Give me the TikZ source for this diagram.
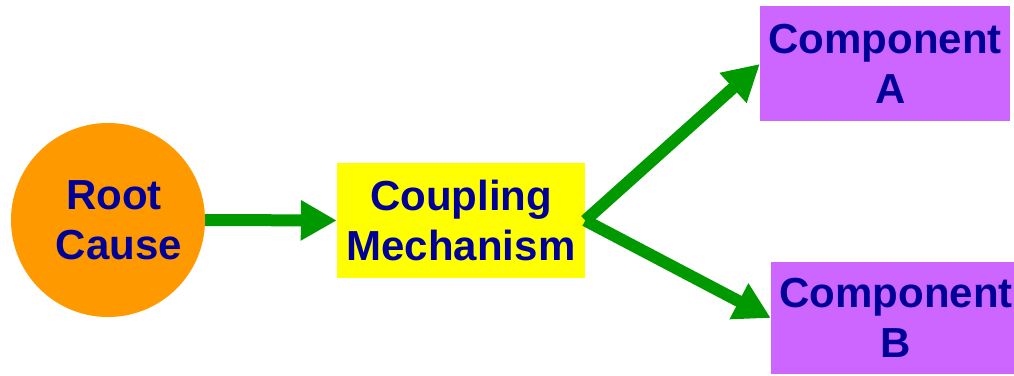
\documentclass[tikz,border=0pt]{standalone}
\usepackage{fontspec}
\setmainfont{Liberation Sans}
\usetikzlibrary{arrows.meta}
\definecolor{rootorange}{RGB}{255,153,0}
\definecolor{couplyellow}{RGB}{255,255,0}
\definecolor{comppurple}{RGB}{204,102,255}
\definecolor{flowgreen}{RGB}{0,153,0}
\definecolor{labelblue}{RGB}{0,0,153}
\tikzset{
  label text/.style={text=labelblue, font=\bfseries\fontsize{42}{50}\selectfont, align=center, inner sep=0pt},
  causenode/.style={label text, circle, fill=rootorange, minimum size=194pt},
  mechnode/.style={label text, rectangle, fill=couplyellow, minimum width=248pt, minimum height=115pt},
  compnode/.style={label text, rectangle, fill=comppurple, minimum width=250pt, minimum height=115pt},
  flow/.style={draw=flowgreen, line width=12pt, -{Triangle[length=36pt, width=38pt]}}
}
\begin{document}
\begin{tikzpicture}[x=1pt, y=1pt]
  \clip (0,0) rectangle (1014,375);
  \fill[white] (0,0) rectangle (1014,375);
  % the three stages: cause, coupling, affected components
  \node[causenode] (root) at (108,155) {\hspace*{12pt}Root\\\hspace*{22pt}Cause};
  \node[mechnode] (mech) at (461,154.5) {Coupling\\Mechanism};
  \node[compnode] (compA) at (885,311) {Component\\\hspace*{12pt}A};
  \node[compnode, minimum height=112pt] (compB) at (896,57) {Component\\B};
  % propagation arrows
  \draw[flow] (root.east) -- (mech.west);
  \draw[flow] (mech.east) -- (compA.west);
  \draw[flow] (mech.east) -- (compB.west);
\end{tikzpicture}
\end{document}
